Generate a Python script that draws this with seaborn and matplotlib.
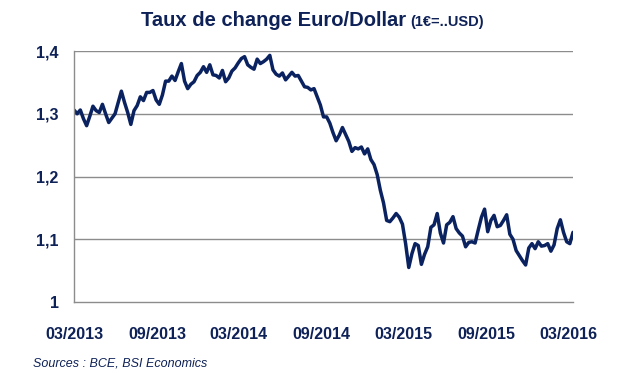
import matplotlib
matplotlib.use("Agg")
import matplotlib.pyplot as plt
import matplotlib.ticker as mticker
import seaborn as sns
import numpy as np
import pandas as pd

# weekly EUR/USD (Friday), 01/03/2013 -> 11/03/2016
rate_2013 = [1.306, 1.300, 1.306, 1.292, 1.281,
             1.296, 1.312, 1.305, 1.302,
             1.315, 1.300, 1.286, 1.293, 1.300,
             1.318, 1.336, 1.318, 1.302,
             1.283, 1.305, 1.313, 1.327,
             1.321, 1.334, 1.334, 1.337, 1.322,
             1.315, 1.330, 1.352, 1.352,
             1.360, 1.353, 1.367, 1.380,
             1.352, 1.340, 1.347, 1.351, 1.361,
             1.366, 1.375, 1.366, 1.378]
rate_2014 = [1.362, 1.361, 1.357, 1.369, 1.351,
             1.357, 1.368, 1.373, 1.381,
             1.388, 1.391, 1.378, 1.374,
             1.371, 1.387, 1.380, 1.383,
             1.387, 1.393, 1.370, 1.363, 1.360,
             1.365, 1.354, 1.360, 1.366,
             1.360, 1.361, 1.352, 1.343,
             1.342, 1.338, 1.340, 1.327, 1.314,
             1.295, 1.295, 1.285, 1.270,
             1.257, 1.266, 1.278, 1.267, 1.256,
             1.240, 1.246, 1.244, 1.247,
             1.236, 1.244, 1.227, 1.219]
rate_2015 = [1.203, 1.178, 1.158, 1.130, 1.128,
             1.134, 1.141, 1.135, 1.124,
             1.093, 1.055, 1.077, 1.093,
             1.090, 1.060, 1.076, 1.088,
             1.119, 1.123, 1.141, 1.110, 1.094,
             1.123, 1.127, 1.136, 1.117,
             1.110, 1.105, 1.088, 1.095, 1.096,
             1.094, 1.115, 1.135, 1.148,
             1.112, 1.130, 1.138, 1.120,
             1.122, 1.130, 1.139, 1.108, 1.100,
             1.082, 1.074, 1.066, 1.059,
             1.086, 1.093, 1.085, 1.096]
rate_2016 = [1.089, 1.090, 1.093, 1.081, 1.091,
             1.117, 1.131, 1.111, 1.096,
             1.093, 1.111]

rates = rate_2013 + rate_2014 + rate_2015 + rate_2016
dates = pd.date_range("2013-03-01", periods=len(rates), freq="W-FRI")
df = pd.DataFrame({"date": dates, "eurusd": rates})

tick_dates = pd.to_datetime(["2013-03-01", "2013-09-01", "2014-03-01", "2014-09-01",
                             "2015-03-01", "2015-09-01", "2016-03-01"])
tick_labels = ["03/2013", "09/2013", "03/2014", "09/2014", "03/2015", "09/2015", "03/2016"]
y_ticks = [1.0, 1.1, 1.2, 1.3, 1.4]

navy = "#0A2260"
txt = "#0F2258"
grid = "#8C8C8C"

sns.set_theme(style="white")
plt.rcParams["font.family"] = ["Liberation Sans", "DejaVu Sans"]

fig = plt.figure(figsize=(6.29, 3.73), dpi=100)
ax = fig.add_axes([74 / 629, 1 - 302 / 373, 499 / 629, 251 / 373])

sns.lineplot(data=df, x="date", y="eurusd", ax=ax, color=navy, linewidth=2.5)

ax.set_xlim(pd.Timestamp("2013-03-01"), pd.Timestamp("2016-03-11"))
ax.set_ylim(1.0, 1.4)
ax.set_yticks(y_ticks)
ax.yaxis.set_major_formatter(mticker.FuncFormatter(
    lambda v, p: "1" if abs(v - 1) < 1e-9 else f"{v:.1f}".replace(".", ",")))
ax.set_xticks(tick_dates)
ax.set_xticklabels(tick_labels)

for y in y_ticks[1:]:
    ax.axhline(y, color=grid, linewidth=1.0, zorder=0)

for s in ["top", "right"]:
    ax.spines[s].set_visible(False)
for s in ["left", "bottom"]:
    ax.spines[s].set_color(grid)
    ax.spines[s].set_linewidth(1.0)

ax.tick_params(axis="both", which="major", direction="out", length=4, width=1.0,
               color=grid, labelcolor=txt, labelsize=11.5)
ax.tick_params(axis="x", pad=14)
ax.tick_params(axis="y", pad=7)
for lab in ax.get_xticklabels() + ax.get_yticklabels():
    lab.set_fontweight("bold")
ax.set_xlabel("")
ax.set_ylabel("")
ax.grid(False)

fig.text(406 / 629, 1 - 21 / 373, "Taux de change Euro/Dollar", ha="right", va="center",
         fontsize=14.5, fontweight="bold", color=txt)
fig.text(410 / 629, 1 - 22 / 373, "(1€=..USD)", ha="left", va="center",
         fontsize=10.5, fontweight="bold", color=txt)
fig.text(33 / 629, 1 - 363 / 373, "Sources : BCE, BSI Economics", ha="left", va="center",
         fontsize=9, style="italic", color=txt)

fig.savefig("out.png", dpi=100)
